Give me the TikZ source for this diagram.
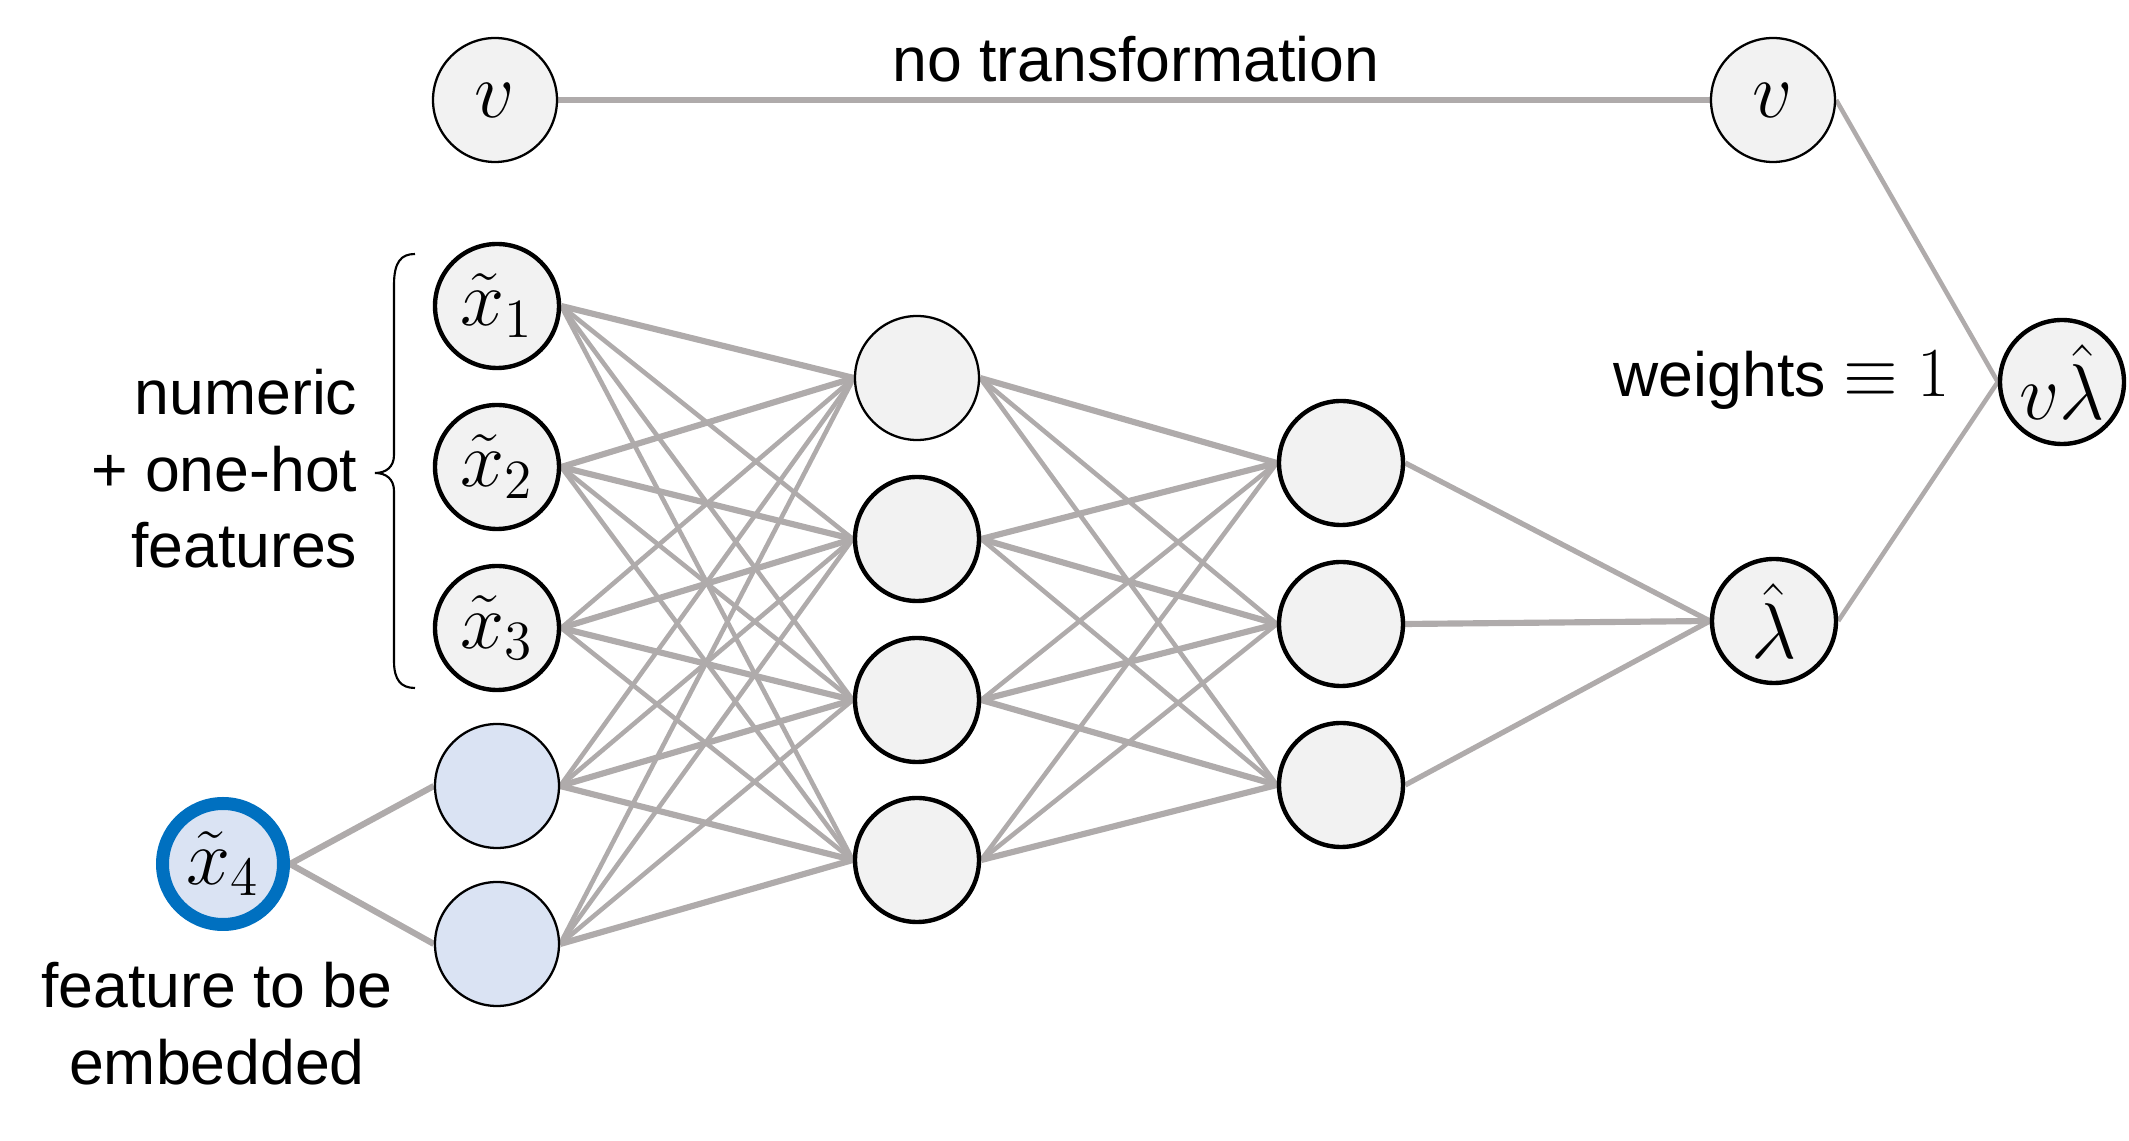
\RequirePackage{fix-cm}
\documentclass[tikz,border=0pt]{standalone}
\usepackage{fontspec}
\setmainfont{Liberation Sans}
\usetikzlibrary{backgrounds}
\definecolor{edgegray}{HTML}{AFABAB}
\definecolor{nodefill}{HTML}{F2F2F2}
\definecolor{embfill}{HTML}{DAE3F3}
\definecolor{ringblue}{HTML}{0070C0}
\tikzset{
  nd/.style={circle, minimum size=1.24cm, inner sep=0pt, fill=nodefill, draw=black,
             font=\fontsize{22.5}{26}\selectfont},
  thinb/.style={nd, line width=0.65pt},
  thickb/.style={nd, line width=1.25pt},
  embnode/.style={thinb, fill=embfill},
  ringnode/.style={nd, minimum size=1.21cm, fill=embfill, draw=ringblue, line width=3.7pt},
  edgethick/.style={draw=edgegray, line width=1.75pt},
  edgethin/.style={draw=edgegray, line width=1.3pt},
  edgemid/.style={draw=edgegray, line width=1.5pt},
  lbl/.style={font=\fontsize{17.8}{21}\selectfont, inner sep=0pt},
}
\begin{document}
\begin{tikzpicture}
\path[use as bounding box] (0,0) rectangle (21.29,-11.41);

% nodes
\node[thinb]  (vL)   at (4.95,-1.00) {$v$};
\node[thinb]  (vR)   at (17.73,-1.00) {$v$};
\node[thickb] (x1)   at (4.97,-3.06) {$\tilde{x}_1$};
\node[thickb] (x2)   at (4.97,-4.67) {$\tilde{x}_2$};
\node[thickb] (x3)   at (4.97,-6.28) {$\tilde{x}_3$};
\node[embnode] (e1)  at (4.97,-7.86) {};
\node[embnode] (e2)  at (4.97,-9.44) {};
\node[ringnode] (x4) at (2.23,-8.64) {$\tilde{x}_4$};
\node[thinb]  (h1)   at (9.17,-3.78) {};
\node[thickb] (h2)   at (9.17,-5.39) {};
\node[thickb] (h3)   at (9.17,-7.00) {};
\node[thickb] (h4)   at (9.17,-8.60) {};
\node[thickb] (g1)   at (13.41,-4.63) {};
\node[thickb] (g2)   at (13.41,-6.24) {};
\node[thickb] (g3)   at (13.41,-7.85) {};
\node[thickb] (lam)  at (17.74,-6.21) {$\hat{\lambda}$};
\node[thickb] (vlam) at (20.62,-3.82) {$v\hat{\lambda}$};

% labels
\node[lbl, anchor=base] (notr) at (11.36,-0.82) {no transformation};
\node[lbl, anchor=base west] (wts) at (16.13,-3.97) {weights {\fontsize{20}{24}\selectfont$\equiv 1$}};
\node[lbl, anchor=base east] (n1) at (3.58,-4.15) {numeric};
\node[lbl, anchor=base east] (n2) at (3.58,-4.92) {+ one-hot};
\node[lbl, anchor=base east] (n3) at (3.58,-5.68) {features};
\node[lbl, anchor=base] (f1) at (2.17,-10.08) {feature to be};
\node[lbl, anchor=base] (f2) at (2.17,-10.85) {embedded};

% brace
\draw[line width=0.6pt, black] (4.15,-2.54) .. controls (4.01,-2.54) and (3.94,-2.62) .. (3.94,-2.85)
  -- (3.94,-4.55) .. controls (3.94,-4.67) and (3.86,-4.73) .. (3.75,-4.73)
  .. controls (3.86,-4.73) and (3.94,-4.79) .. (3.94,-4.91)
  -- (3.94,-6.61) .. controls (3.94,-6.80) and (4.01,-6.88) .. (4.15,-6.88);

\begin{pgfonlayer}{background}
\draw[edgethick] (vL.east) -- (vR.west);
\draw[edgethin] (vR.east) -- (vlam.west);
\draw[edgethin] (lam.east) -- (vlam.west);
\draw[edgethick] (x4.east) -- (e1.west);
\draw[edgethick] (x4.east) -- (e2.west);
\foreach \a/\k in {x1/1,x2/2,x3/3,e1/4,e2/5}{
  \foreach \j in {1,2,3,4}{
    \pgfmathtruncatemacro\dd{\k-\j}
    \ifnum\dd<0 \def\ww{edgethin}\else\ifnum\dd>1 \def\ww{edgethin}\else\def\ww{edgethick}\fi\fi
    \draw[\ww] (\a.east) -- (h\j.west);
  }}
\foreach \k in {1,2,3,4}{
  \foreach \j in {1,2,3}{
    \pgfmathtruncatemacro\dd{\k-\j}
    \ifnum\dd<0 \def\ww{edgethin}\else\ifnum\dd>1 \def\ww{edgethin}\else\def\ww{edgethick}\fi\fi
    \draw[\ww] (h\k.east) -- (g\j.west);
  }}
\draw[edgemid] (g1.east) -- (lam.west);
\draw[edgethick] (g2.east) -- (lam.west);
\draw[edgemid] (g3.east) -- (lam.west);
\end{pgfonlayer}
\end{tikzpicture}
\end{document}
